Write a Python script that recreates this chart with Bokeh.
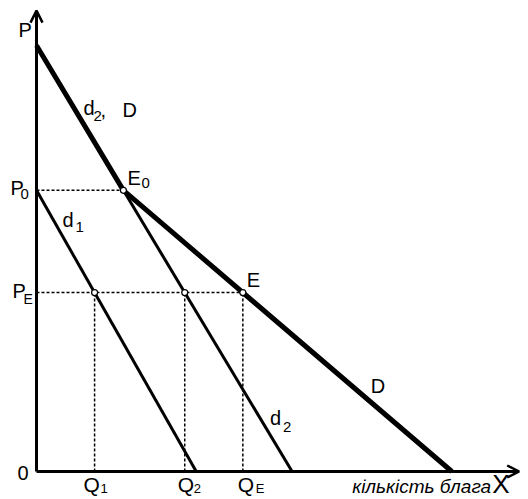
from bokeh.plotting import figure
from bokeh.models import Arrow, OpenHead, Range1d
from bokeh.core.properties import value
from bokeh.embed import file_html
from bokeh.resources import INLINE

# ---- values ----
p_max = 10.0                 # price intercept of d2 (and of D)
price_levels = [6.6, 4.2]    # P0, PE
d1_q_intercept = 3.75
d2_q_intercept = 6.0
D_q_intercept = 9.75
axis_top = 10.82
axis_right = 11.33

y_axis_letter = "P"
price_subs = ["0", "E"]
qty_subs = ["1", "2", "E"]
x_axis_title = "кількість блага"
x_axis_letter = "X"
origin_label = "0"

# ---- derived geometry ----
P0, PE = price_levels
q_E0 = d2_q_intercept * (1 - P0 / p_max)


def d1(pr):
    return d1_q_intercept * (1 - pr / P0)


def d2(pr):
    return d2_q_intercept * (1 - pr / p_max)


def D(pr):
    return q_E0 + (D_q_intercept - q_E0) * (P0 - pr) / P0


q1, q2, qE = d1(PE), d2(PE), D(PE)
qs = [q1, q2, qE]

# ---- figure ----
W, H = 528, 499
xs, x0 = 42.6, 36
ys, y0 = 42.6, 28
p = figure(width=W, height=H,
           x_range=Range1d(-x0 / xs, (W - x0) / xs),
           y_range=Range1d(-y0 / ys, (H - y0) / ys),
           x_axis_location=None, y_axis_location=None,
           output_backend="svg", toolbar_location=None, min_border=0)
p.grid.visible = False
p.outline_line_color = None
p.background_fill_color = "white"

# dotted guides
p.multi_line(xs=[[0, q_E0], [0, qE], [q1, q1], [q2, q2], [qE, qE]],
             ys=[[P0, P0], [PE, PE], [0, PE], [0, PE], [0, PE]],
             line_color="black", line_width=1.5, line_dash="3 2")

# axes with arrows
p.add_layout(Arrow(end=OpenHead(size=12, line_width=2.5, line_color="black"),
                   x_start=0, y_start=0, x_end=0, y_end=axis_top,
                   line_width=3, line_color="black"))
p.add_layout(Arrow(end=OpenHead(size=12, line_width=2.5, line_color="black"),
                   x_start=0, y_start=0, x_end=axis_right, y_end=0,
                   line_width=3, line_color="black"))

# demand curves
p.line([0, d1_q_intercept], [P0, 0], line_color="black", line_width=3)
p.line([q_E0, d2_q_intercept], [P0, 0], line_color="black", line_width=3)
p.line([0, q_E0, D_q_intercept], [p_max, P0, 0], line_color="black",
       line_width=5, line_join="round")

# intersection points
p.scatter([q_E0, q1, q2, qE], [P0, PE, PE, PE], size=6,
          fill_color="white", line_color="black", line_width=1.2)

FONT = value("Liberation Sans")


def label(x, y, txt, dx, dy, size, style="normal"):
    p.text(x=[x], y=[y], text=[txt], x_offset=dx, y_offset=dy,
           text_font=FONT, text_font_size=f"{size}px", text_font_style=style,
           text_align="left", text_baseline="middle", text_color="black")


MAIN, SUB = 20, 15

# y axis letter
label(0, p_max, y_axis_letter, -18, -16, MAIN)
# d2, D
label(0, p_max, "d", 47, 62, MAIN)
label(0, p_max, "2", 57, 70, SUB)
label(0, p_max, ",", 64, 64, MAIN)
label(0, p_max, "D", 86, 64, MAIN)
# E0
label(q_E0, P0, "E", 4, -12, MAIN)
label(q_E0, P0, price_subs[0], 18, -7, SUB)
# P0, PE
label(0, P0, "P", -26, -2, MAIN)
label(0, P0, price_subs[0], -16, 4, SUB)
label(0, PE, "P", -24, -2, MAIN)
label(0, PE, price_subs[1], -13, 6, 14)
# d1
label(0, P0, "d", 26, 30, MAIN)
label(0, P0, "1", 39, 37, SUB)
# E
label(qE, PE, "E", 4, -13, MAIN)
# D lower
label(D_q_intercept, 0, "D", -81, -86, MAIN)
# d2 lower
label(d2_q_intercept, 0, "d", -22, -54, MAIN)
label(d2_q_intercept, 0, "2", -9, -45, SUB)
# origin
label(0, 0, origin_label, -19, 1, MAIN)
# quantities
q_dx = [(-11, 6), (-7, 9), (-5, 13)]
for q, sub, (dq, ds) in zip(qs, qty_subs, q_dx):
    label(q, 0, "Q", dq, 13, 21)
    label(q, 0, sub, ds, 17, 13)
# x axis title
label(axis_right, 0, x_axis_title, -167, 15, 19, "italic")
label(axis_right, 0, x_axis_letter, -27, 12, 26)

open("out.html", "w").write(file_html(p, INLINE))
